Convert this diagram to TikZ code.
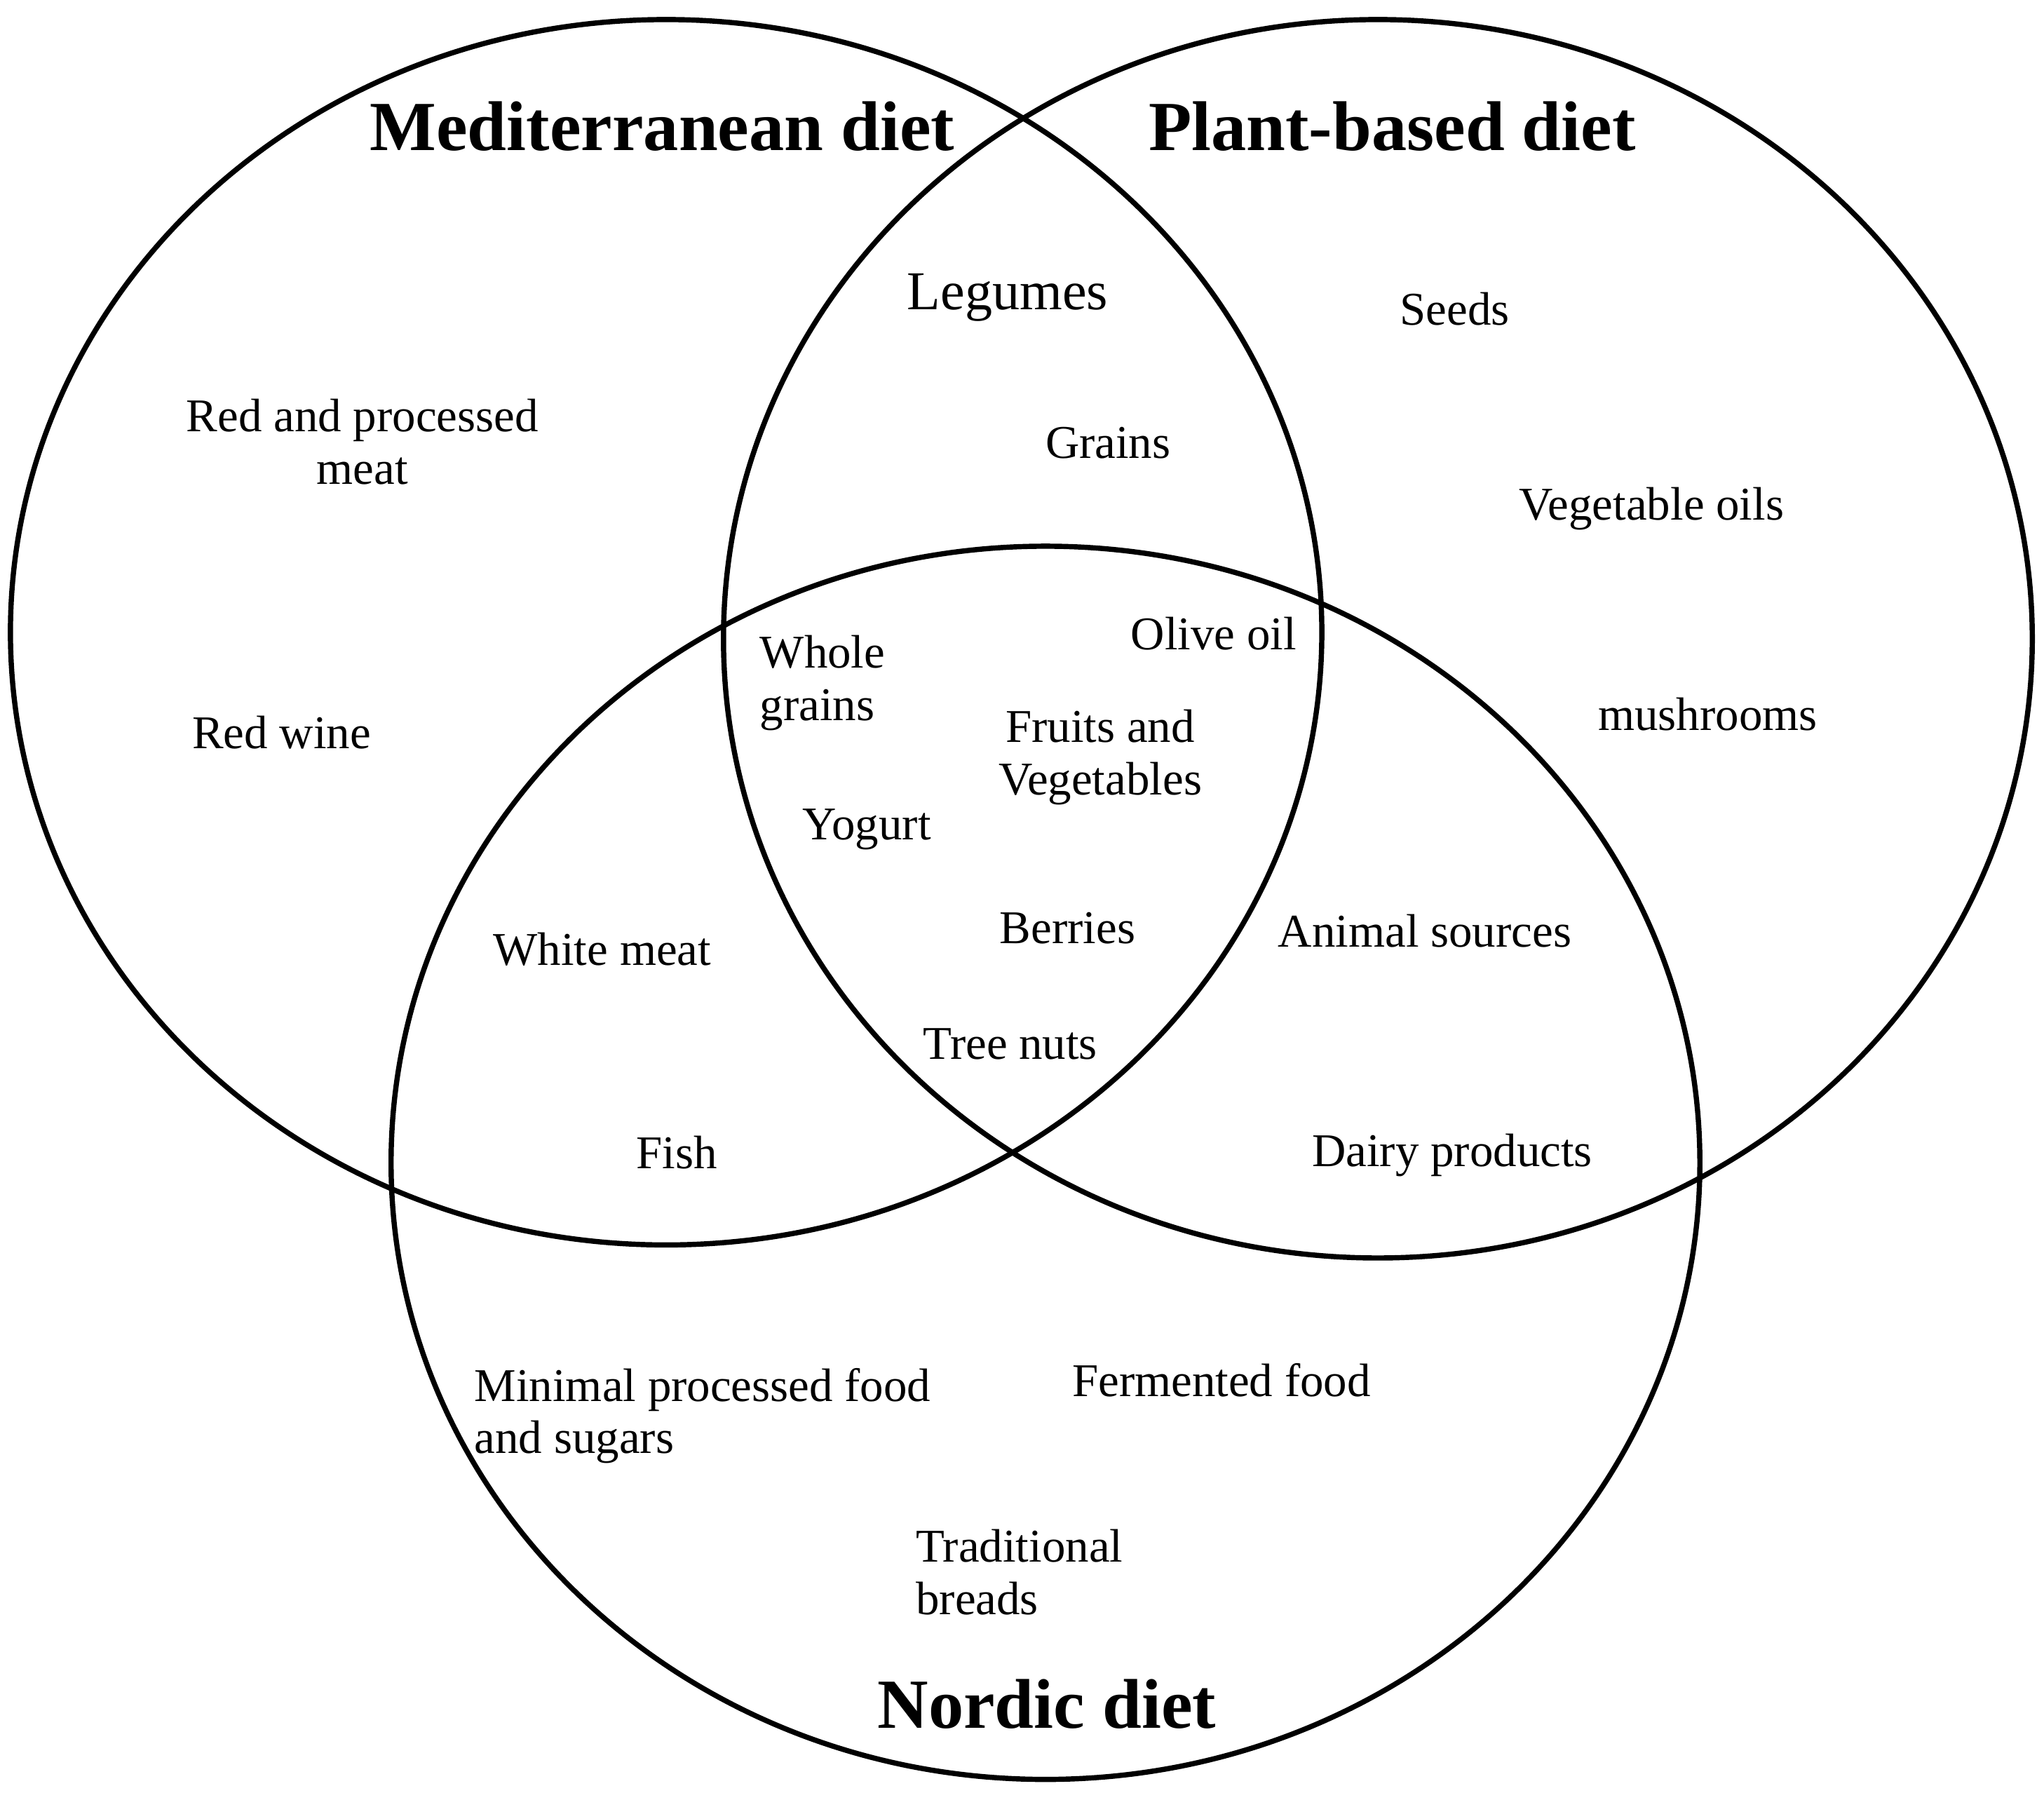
\documentclass[tikz,border=0pt]{standalone}
\usepackage{fontspec}
\setmainfont{Liberation Serif}
\begin{document}
\begin{tikzpicture}[x=0.5pt,y=-0.5pt,
  ring/.style={draw,line width=2pt},
  lbl/.style={font=\fontsize{18}{20}\selectfont,align=left,inner sep=0pt},
  ttl/.style={font=\fontsize{27}{30}\selectfont\bfseries,inner sep=0pt}]
\useasboundingbox (0,0) rectangle (1568,1375);
\draw[ring] (511,485) ellipse [x radius=503,y radius=470];
\draw[ring] (1057,490) ellipse [x radius=502,y radius=475];
\draw[ring] (802,892) ellipse [x radius=502,y radius=473];
\node[ttl] (t1) at (508,97) {Mediterranean diet};
\node[ttl] (t2) at (1068,97) {Plant-based diet};
\node[ttl] (t3) at (803,1307) {Nordic diet};
\node[lbl,align=center] (a) at (278,339) {Red and processed\\meat};
\node[lbl] (b) at (216,562) {Red wine};
\node[lbl,font=\fontsize{21}{23}\selectfont] (c) at (773,228) {Legumes};
\node[lbl] (d) at (850,340) {Grains};
\node[lbl] (e) at (1116,237) {Seeds};
\node[lbl] (f) at (1267,390) {Vegetable oils};
\node[lbl] (g) at (1310,548) {mushrooms};
\node[lbl] (h) at (931,486) {Olive oil};
\node[lbl] (i) at (631,524) {Whole\\grains};
\node[lbl,align=center] (j) at (844,581) {Fruits and\\Vegetables};
\node[lbl] (k) at (665,636) {Yogurt};
\node[lbl] (l) at (819,712) {Berries};
\node[lbl] (m) at (775,801) {Tree nuts};
\node[lbl] (n) at (462,728) {White meat};
\node[lbl] (o) at (519,884) {Fish};
\node[lbl] (p) at (1093,714) {Animal sources};
\node[lbl] (q) at (1114,886) {Dairy products};
\node[lbl] (r) at (539,1086) {Minimal processed food\\and sugars};
\node[lbl] (s) at (937,1059) {Fermented food};
\node[lbl] (u) at (782,1206) {Traditional\\breads};
\end{tikzpicture}
\end{document}
